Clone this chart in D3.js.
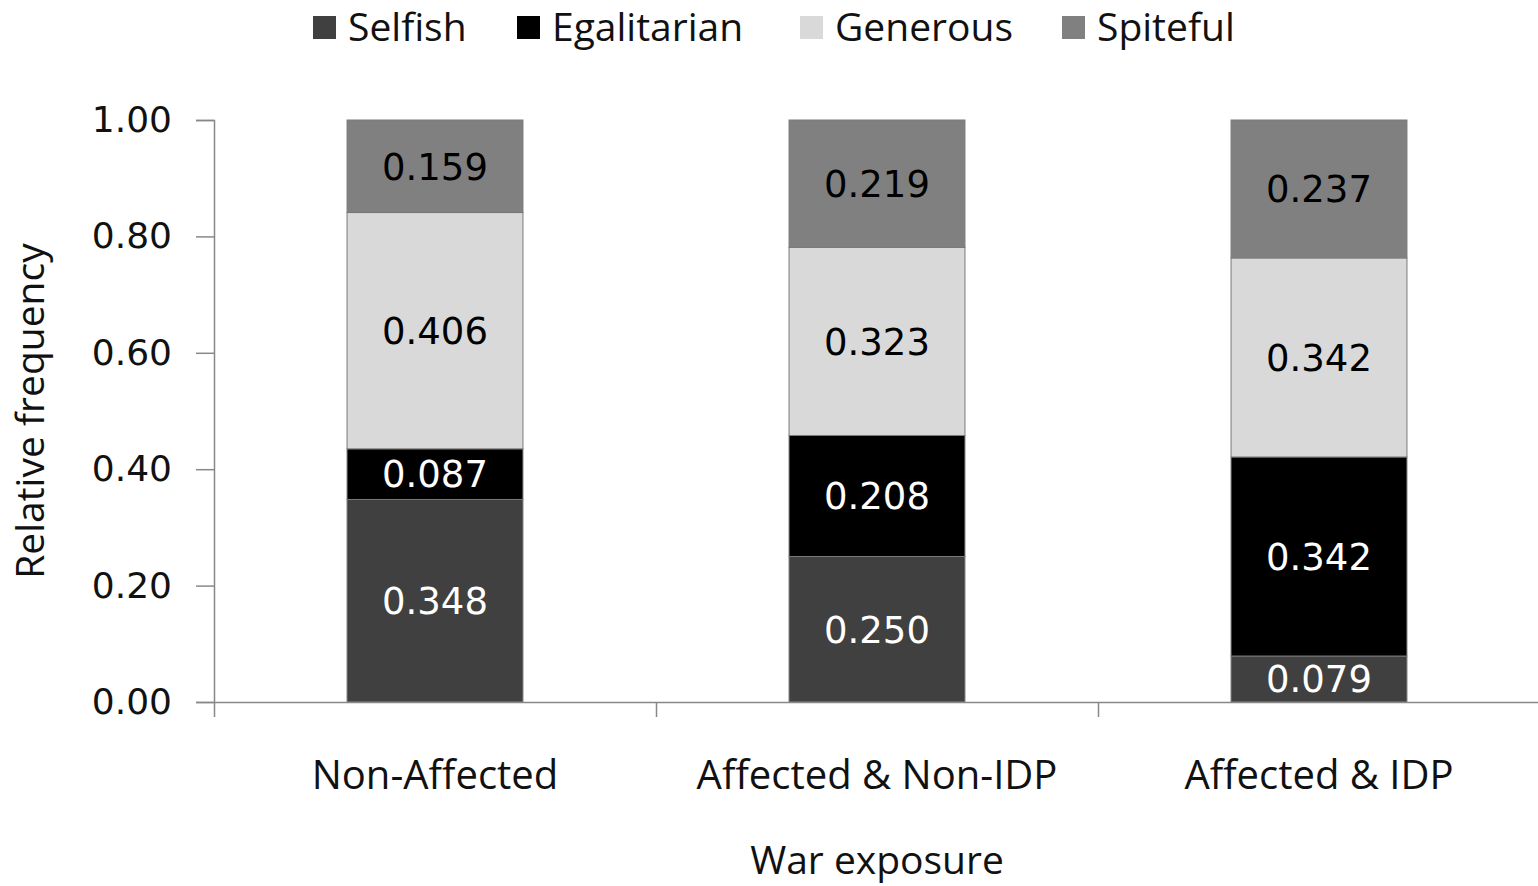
<!DOCTYPE html>
<html>
<head>
<meta charset="utf-8">
<script src="https://cdn.jsdelivr.net/npm/d3@7"></script>
<style>
  html, body { margin: 0; padding: 0; background: #fff; }
  svg { display: block; }
</style>
</head>
<body>
<svg id="chart" width="1538" height="886"></svg>
<script>
const categories = ["Non-Affected", "Affected & Non-IDP", "Affected & IDP"];
const seriesNames = ["Selfish", "Egalitarian", "Generous", "Spiteful"];
const selfish     = [0.348, 0.250, 0.079];
const egalitarian = [0.087, 0.208, 0.342];
const generous    = [0.406, 0.323, 0.342];
const spiteful    = [0.159, 0.219, 0.237];
const yTickValues = [0, 0.2, 0.4, 0.6, 0.8, 1.0];
const colors = ["#404040", "#000000", "#d9d9d9", "#808080"];
const labelColors = ["#ffffff", "#ffffff", "#000000", "#000000"];

const seriesValues = [selfish, egalitarian, generous, spiteful];
const rows = categories.map((c, i) => {
  const r = { category: c };
  seriesNames.forEach((s, j) => r[s] = seriesValues[j][i]);
  return r;
});

const svg = d3.select("#chart");
const plotLeft = 214, plotRight = 1540, plotTop = 120, plotBottom = 702;
const catFont = "'Open Sans', sans-serif";
const numFont = "'DejaVu Sans', sans-serif";

const x = d3.scaleBand().domain(categories).range([plotLeft, plotRight]).padding(0);
const xEdge = d3.scaleLinear().domain([0, categories.length]).range([plotLeft, plotRight]);
const y = d3.scaleLinear().domain([0, 1]).range([plotBottom, plotTop]);
const barW = x.bandwidth() * 0.398;

const stacked = d3.stack().keys(seriesNames)(rows);

// Bars
const g = svg.append("g");
stacked.forEach((layer, j) => {
  g.selectAll(".bar" + j)
    .data(layer)
    .enter().append("rect")
    .attr("x", d => x(d.data.category) + (x.bandwidth() - barW) / 2)
    .attr("y", d => y(d[1]))
    .attr("width", barW)
    .attr("height", d => y(d[0]) - y(d[1]))
    .attr("fill", colors[j])
    .attr("stroke", "#7a7a7a")
    .attr("stroke-width", 1);
  g.selectAll(".lab" + j)
    .data(layer)
    .enter().append("text")
    .attr("x", d => x(d.data.category) + x.bandwidth() / 2)
    .attr("y", d => (y(d[0]) + y(d[1])) / 2)
    .attr("dy", "0.36em")
    .attr("text-anchor", "middle")
    .attr("font-family", numFont)
    .attr("font-size", 37)
    .attr("fill", labelColors[j])
    .text(d => (d[1] - d[0]).toFixed(3));
});

// Y axis
const yAxis = d3.axisLeft(y).tickValues(yTickValues).tickFormat(d3.format(".2f")).tickSize(18).tickPadding(24);
const yg = svg.append("g").attr("transform", `translate(${plotLeft},0)`).call(yAxis);
yg.select(".domain").attr("stroke", "#888").attr("stroke-width", 1.5);
yg.selectAll(".tick line").attr("stroke", "#888").attr("stroke-width", 1.5);
yg.selectAll(".tick text").attr("font-family", numFont).attr("font-size", 36).attr("fill", "#111");

// X axis (edges)
const xAxis = d3.axisBottom(xEdge).tickValues(d3.range(categories.length + 1)).tickFormat("").tickSize(15).tickSizeOuter(0);
const xg = svg.append("g").attr("transform", `translate(0,${plotBottom})`).call(xAxis);
xg.select(".domain").attr("stroke", "#888").attr("stroke-width", 1.5);
xg.selectAll(".tick line").attr("stroke", "#888").attr("stroke-width", 1.5);

// Category labels
svg.append("g").selectAll("text").data(categories).enter().append("text")
  .attr("x", d => x(d) + x.bandwidth() / 2)
  .attr("y", 789)
  .attr("text-anchor", "middle")
  .attr("font-family", catFont)
  .attr("font-size", 40)
  .attr("fill", "#111")
  .text(d => d);

// Axis titles
svg.append("text")
  .attr("x", 877).attr("y", 874)
  .attr("text-anchor", "middle")
  .attr("font-family", catFont).attr("font-size", 39).attr("fill", "#111")
  .text("War exposure");
svg.append("text")
  .attr("transform", `translate(44,${(plotTop + plotBottom) / 2}) rotate(-90)`)
  .attr("text-anchor", "middle")
  .attr("font-family", catFont).attr("font-size", 39).attr("fill", "#111")
  .text("Relative frequency");

// Legend
const legendX = [313, 517, 800, 1062];
const lg = svg.append("g");
seriesNames.forEach((s, j) => {
  lg.append("rect")
    .attr("x", legendX[j]).attr("y", 16)
    .attr("width", 23).attr("height", 23)
    .attr("fill", colors[j]);
  lg.append("text")
    .attr("x", legendX[j] + 35).attr("y", 41)
    .attr("font-family", catFont).attr("font-size", 39).attr("fill", "#111")
    .text(s);
});
</script>
</body>
</html>
